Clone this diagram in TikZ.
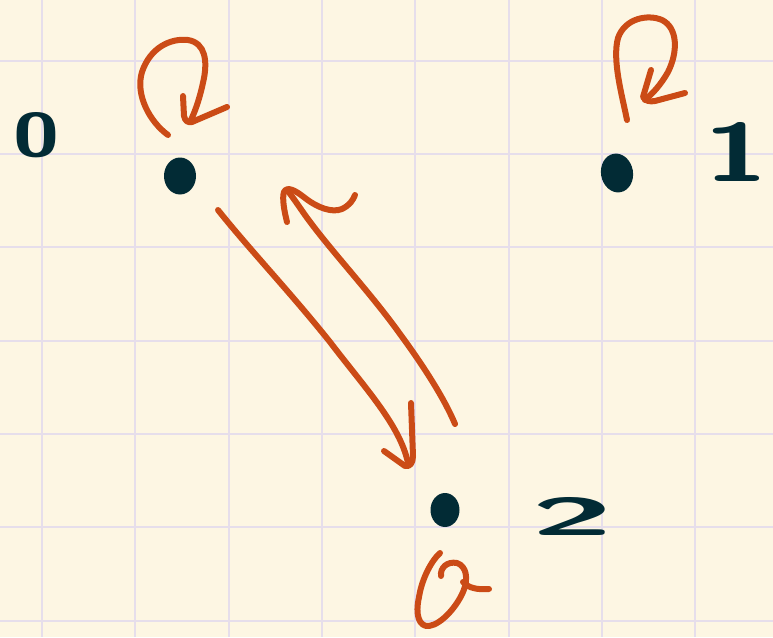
\documentclass[tikz,border=0pt]{standalone}
\usetikzlibrary{shapes.geometric,calc}
\definecolor{paper}{HTML}{FDF6E3}
\definecolor{gridc}{HTML}{E6DEEB}
\definecolor{ink}{HTML}{022B35}
\definecolor{pen}{HTML}{CB4B16}
\tikzset{
  statedot/.style={ellipse, fill=ink, draw=none, inner sep=0pt, minimum width=32pt, minimum height=37pt},
  lbl/.style={text=ink, inner sep=0pt, font=\sffamily\bfseries},
  stroke/.style={draw=pen, line width=6pt, line cap=round, line join=round},
}
\begin{document}
\begin{tikzpicture}[x=1pt,y=-1pt]
\fill[paper] (0,0) rectangle (773,637);
\useasboundingbox (0,0) rectangle (773,637);
\foreach \i in {0,...,7} {\draw[gridc, line width=2pt] ({42+93.33*\i},0) -- ({42+93.33*\i},637);}
\foreach \i in {0,...,6} {\draw[gridc, line width=2pt] (0,{60.7+93.33*\i}) -- (773,{60.7+93.33*\i});}

% states
\node[statedot] (n0) at (180,176) {};
\node[statedot, rotate=10, minimum height=39pt] (n1) at (617,173) {};
\node[statedot, minimum width=29pt, minimum height=34pt] (n2) at (445,510) {};

% labels
\node[lbl] (l0) at (37,135) {\resizebox{46pt}{44pt}{0}};
\node[lbl] (l1) at (736,152) {\resizebox{64pt}{59pt}{1}};
\node[lbl] (l2) at (572,516) {\resizebox{82pt}{38pt}{2}};

% self loop at 0
\draw[stroke] ([shift={(-12,-41)}]n0.center) .. controls (150,122) and (135,95) .. (142,72)
  .. controls (150,48) and (170,38) .. (188,40)
  .. controls (206,43) and (207,62) .. (204,78)
  .. controls (200,98) and (195,112) .. (190,122);
\draw[stroke] (183,96) -- (184,116) .. controls (185,121) and (188,123) .. (192,122) -- (227,107);

% self loop at 1
\draw[stroke] ([shift={(10,-53)}]n1.center) .. controls (622,95) and (612,60) .. (618,38)
  .. controls (625,18) and (648,14) .. (662,20)
  .. controls (678,28) and (678,52) .. (668,72)
  .. controls (660,86) and (652,94) .. (645,100);
\draw[stroke] (651,70) -- (643,97) .. controls (645,101) and (650,102) .. (655,101) -- (685,93);

% self loop at 2
\draw[stroke] ([shift={(-5,43)}]n2.center) .. controls (432,560) and (422,578) .. (419,597)
  .. controls (415,615) and (419,627) .. (429,626)
  .. controls (442,624) and (457,606) .. (463,592)
  .. controls (469,578) and (466,566) .. (457,563)
  .. controls (447,561) and (440,568) .. (441,576);
\draw[stroke] (463,582) .. controls (468,588) and (478,590) .. (489,589);

% 0 -> 2
\draw[stroke] ([shift={(38,34)}]n0.center) .. controls (250,250) and (290,292) .. (330,342)
  .. controls (365,388) and (400,425) .. ([shift={(-37,-47)}]n2.center);
\draw[stroke] (411,403) -- (413,456) .. controls (413,463) and (410,467) .. (405,466) -- (384,451);

% 2 -> 0
\draw[stroke] ([shift={(10,-86)}]n2.center) .. controls (445,400) and (425,368) .. (400,334)
  .. controls (370,292) and (330,250) .. (305,215)
  .. controls (298,205) and (292,196) .. (287,190);
\draw[stroke] (287,222) .. controls (284,210) and (282,198) .. (284,192)
  .. controls (287,186) and (295,190) .. (305,198)
  .. controls (318,208) and (332,213) .. (342,209)
  .. controls (350,205) and (353,200) .. (355,195);
\end{tikzpicture}
\end{document}
